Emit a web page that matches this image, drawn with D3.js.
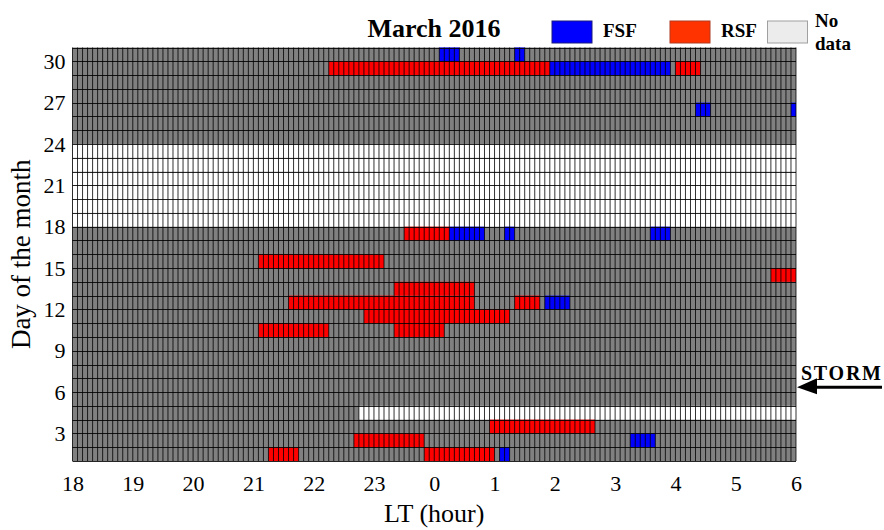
<!DOCTYPE html>
<html>
<head>
<meta charset="utf-8">
<script src="https://cdn.jsdelivr.net/npm/d3@7"></script>
<style>
  body { margin: 0; background: #fff; }
  text { font-family: "Liberation Serif", "Times New Roman", serif; fill: #000; }
</style>
</head>
<body>
<svg id="chart" width="884" height="530"></svg>
<script>
// Hour ticks along the night (LT), and day-of-month ticks
const hourTicks = [18, 19, 20, 21, 22, 23, 0, 1, 2, 3, 4, 5, 6];
const dayTicks = [3, 6, 9, 12, 15, 18, 21, 24, 27, 30];

// FSF occurrences: day, start LT, end LT
const fsfDay   = [30, 30, 29, 26, 26, 17, 17, 17, 12, 2, 1];
const fsfStart = ["00:05", "01:20", "01:55", "04:20", "05:55", "00:15", "01:10", "03:35", "01:50", "03:15", "01:05"];
const fsfEnd   = ["00:25", "01:30", "03:55", "04:35", "06:00", "00:50", "01:20", "03:55", "02:15", "03:40", "01:15"];

// RSF occurrences: day, start LT, end LT
const rsfDay   = [29, 29, 17, 15, 14, 13, 12, 12, 11, 10, 10, 3, 2, 1, 1];
const rsfStart = ["22:15", "04:00", "23:30", "21:05", "05:35", "23:20", "21:35", "01:20", "22:50", "21:05", "23:20", "00:55", "22:40", "21:15", "23:50"];
const rsfEnd   = ["01:55", "04:25", "00:15", "23:10", "06:00", "00:40", "00:40", "01:45", "01:15", "22:15", "00:10", "02:40", "23:50", "21:45", "01:00"];

// Periods without data
const noDataDay   = [18, 19, 20, 21, 22, 23, 4];
const noDataStart = ["18:00", "18:00", "18:00", "18:00", "18:00", "18:00", "22:45"];
const noDataEnd   = ["06:00", "06:00", "06:00", "06:00", "06:00", "06:00", "06:00"];

const stormDay = 6.35;

// hours elapsed since 18 LT (an end time of 06:00 closes the night at 12)
function lt(s, isEnd) {
  const [h, m] = s.split(":").map(Number);
  const v = ((h + m / 60 - 18) % 24 + 24) % 24;
  return isEnd && v === 0 ? 12 : v;
}

const svg = d3.select("#chart");
const mLeft = 72.5, mRight = 796, mTop = 47.5, mBottom = 461;

const x = d3.scaleLinear().domain([0, 12]).range([mLeft, mRight]);
const y = d3.scaleLinear().domain([1, 31]).range([mBottom, mTop]);

const plot = svg.append("g");

// background: nights with observations
plot.append("rect")
  .attr("x", x(0)).attr("y", y(31))
  .attr("width", x(12) - x(0)).attr("height", y(1) - y(31))
  .attr("fill", "#808080");

function spans(days, starts, ends) {
  return days.map((d, i) => ({ day: d, a: lt(starts[i], false), b: lt(ends[i], true) }));
}

function drawCells(data, color) {
  plot.append("g").selectAll("rect").data(data).join("rect")
    .attr("x", d => x(d.a))
    .attr("width", d => x(d.b) - x(d.a))
    .attr("y", d => y(d.day + 1))
    .attr("height", d => y(d.day) - y(d.day + 1))
    .attr("fill", color);
}

drawCells(spans(noDataDay, noDataStart, noDataEnd), "#ffffff");
drawCells(spans(rsfDay, rsfStart, rsfEnd), "#ff0000");
drawCells(spans(fsfDay, fsfStart, fsfEnd), "#0000ff");

// faceted cell edges: 5-minute columns, one row per day
const grid = plot.append("g");
grid.selectAll("line.v").data(d3.range(0, 12 * 12 + 1)).join("line")
  .attr("class", "v")
  .attr("x1", i => x(i / 12)).attr("x2", i => x(i / 12))
  .attr("y1", y(31)).attr("y2", y(1))
  .attr("stroke", "#000").attr("stroke-width", 1).attr("stroke-opacity", 0.8);
grid.selectAll("line.h").data(d3.range(1, 32)).join("line")
  .attr("class", "h")
  .attr("x1", x(0)).attr("x2", x(12))
  .attr("y1", d => Math.round(y(d)) + 0.5).attr("y2", d => Math.round(y(d)) + 0.5)
  .attr("stroke", "#000").attr("stroke-width", 1).attr("stroke-opacity", 0.85);

// axes
const xAxis = svg.append("g")
  .attr("transform", `translate(0,${mBottom})`)
  .call(d3.axisBottom(x).tickValues(d3.range(0, 13)).tickFormat(i => hourTicks[i]).tickSize(0).tickPadding(14));
xAxis.select(".domain").remove();
xAxis.selectAll("text").attr("font-size", 22).attr("font-family", "Liberation Serif");

const yAxis = svg.append("g")
  .attr("transform", `translate(${mLeft},0)`)
  .call(d3.axisLeft(y).tickValues(dayTicks).tickSize(0).tickPadding(7));
yAxis.select(".domain").remove();
yAxis.selectAll("text").attr("font-size", 22).attr("font-family", "Liberation Serif");

svg.append("text")
  .attr("x", (mLeft + mRight) / 2).attr("y", 522)
  .attr("text-anchor", "middle").attr("font-size", 26)
  .text("LT (hour)");

svg.append("text")
  .attr("transform", `translate(30,${(mTop + mBottom) / 2}) rotate(-90)`)
  .attr("text-anchor", "middle").attr("font-size", 27)
  .text("Day of the month");

// title
svg.append("text")
  .attr("x", 434).attr("y", 37)
  .attr("text-anchor", "middle").attr("font-size", 26).attr("font-weight", "bold")
  .text("March 2016");

// legend
const legend = [
  { label: "FSF", fill: "#0000ff", stroke: "#1a1a80", x: 552 },
  { label: "RSF", fill: "#ff3300", stroke: "#b03a20", x: 670 }
];
legend.forEach(l => {
  svg.append("rect").attr("x", l.x).attr("y", 21).attr("width", 40).attr("height", 22)
    .attr("fill", l.fill).attr("stroke", l.stroke).attr("stroke-width", 1);
  svg.append("text").attr("x", l.x + 51).attr("y", 37)
    .attr("font-size", 19).attr("font-weight", "bold").text(l.label);
});
svg.append("rect").attr("x", 767.5).attr("y", 21).attr("width", 40).attr("height", 22)
  .attr("fill", "#ececec").attr("stroke", "#a0a0a0").attr("stroke-width", 1);
svg.append("text").attr("x", 815).attr("y", 27).attr("font-size", 19).attr("font-weight", "bold").text("No");
svg.append("text").attr("x", 815).attr("y", 50).attr("font-size", 19).attr("font-weight", "bold").text("data");

// storm marker
const sy = y(stormDay);
svg.append("line")
  .attr("x1", 814).attr("x2", 882).attr("y1", sy).attr("y2", sy)
  .attr("stroke", "#000").attr("stroke-width", 3);
svg.append("path")
  .attr("d", `M797,${sy} L817,${sy - 9} L817,${sy + 7} Z`)
  .attr("fill", "#000");
svg.append("text").attr("x", 801).attr("y", sy - 7)
  .attr("font-size", 20).attr("font-weight", "bold").attr("textLength", 80)
  .text("STORM");
</script>
</body>
</html>
